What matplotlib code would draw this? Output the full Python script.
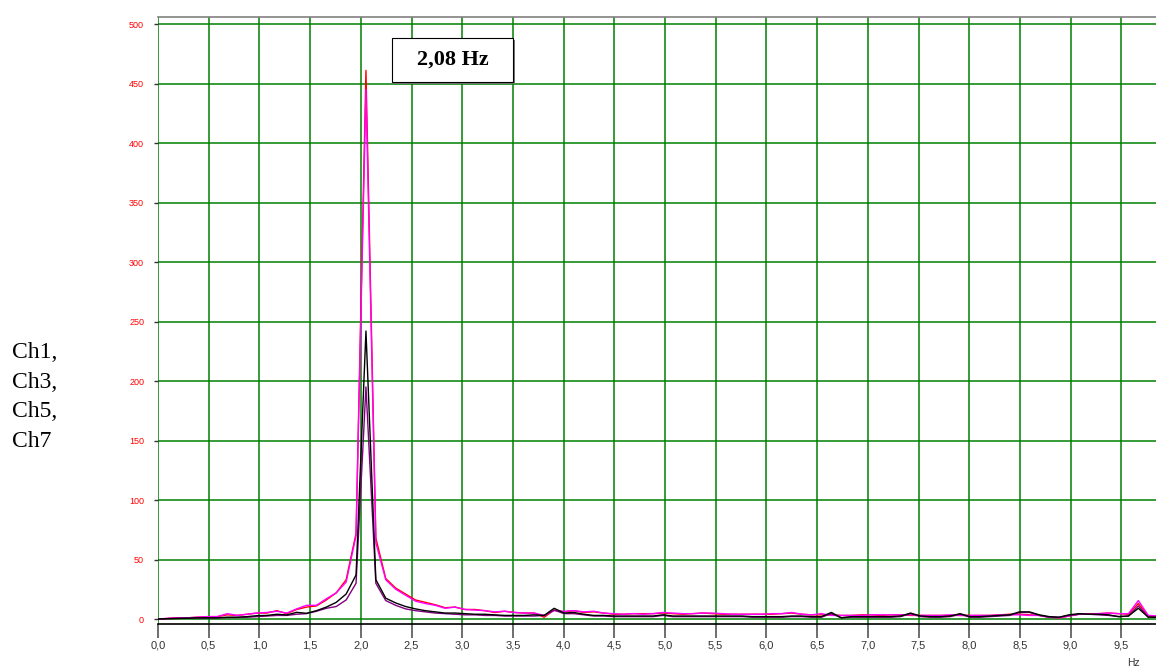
import numpy as np
import matplotlib
matplotlib.use("Agg")
import matplotlib.pyplot as plt
from matplotlib.patches import Rectangle


# spectrum bins: 100 Hz / 1024 points
DF = 100.0 / 1024.0

ch_red = [
    0, 0.5, 1, 1, 1.5, 2, 2, 3.5, 3, 4,
    5, 5, 7, 4.5, 8, 10, 11, 16, 22, 33,
    72, 461, 68, 34, 26, 21, 16, 14, 12, 9.5,
    10, 8, 8, 7, 5.5, 6.5, 5.5, 5, 5, 1.5,
    7.5, 6, 7, 5.5, 6, 5, 4, 4, 4.5, 4.5,
    4.5, 5, 4.5, 4, 4.5, 5, 4.5, 4, 4, 4,
    4, 4, 4, 4.5, 5, 4, 3.5, 3.5, 3.5, 3,
    3, 3.5, 3.5, 3, 3.5, 3.5, 3, 3, 3, 3,
    3, 3, 3, 3, 3, 3.5, 4, 4, 3.5, 3,
    1.5, 1, 2.5, 4, 4.5, 4.5, 5, 4.5, 4, 13,
    2.5, 2,
]
ch_magenta = [
    0, 0.5, 1, 1, 1.5, 2, 2, 4.5, 3, 4,
    5, 5.5, 6.5, 5, 8.5, 11.5, 11.5, 17, 22, 31,
    70, 445, 64, 33, 25, 20, 15, 13, 11.5, 9,
    10, 8, 7.5, 7, 6, 6.5, 5.5, 5, 5, 3,
    7, 6.5, 7, 6, 6.5, 5, 4.5, 4, 4.5, 4,
    4.5, 5.5, 5, 4.5, 4.5, 5, 5, 4.5, 4, 4,
    4, 4, 4.5, 4.5, 5.5, 4, 3.5, 4.5, 3, 3,
    3, 3, 3.5, 3.5, 3.5, 3.5, 3.5, 3, 3, 3,
    3.5, 3, 3, 3, 3, 3.5, 3.5, 3.5, 3, 3,
    1.5, 1, 2.5, 4, 4, 4.5, 5, 4.5, 4.5, 15.5,
    3, 2.5,
]
ch_black = [
    0, 0.3, 0.5, 0.7, 1, 1, 1, 1.5, 1.5, 2,
    2.8, 3, 4, 3.4, 5.6, 4.8, 7, 10, 14, 21,
    37, 242, 33, 17.5, 13.5, 10.5, 8.5, 7, 6, 5,
    5, 4.5, 4, 4, 3.5, 3, 3, 3, 3.5, 3,
    9, 5, 5.5, 4, 3, 3, 2.5, 2.5, 2.5, 2.5,
    2.5, 3.5, 2.5, 2.5, 2.5, 2.5, 2.5, 2.5, 2.5, 2.5,
    2, 2, 2, 2, 2.5, 2.5, 2, 2, 5.5, 1,
    2, 2, 2, 2, 2, 2.5, 5, 2.5, 2, 2,
    2.5, 4.5, 2, 2, 2.5, 3, 3.5, 6, 6, 3.5,
    2, 1.5, 3.5, 4.5, 4, 4, 3.5, 2, 2.5, 9,
    1.5, 1.5,
]
ch_purple = [
    0, 0.3, 0.5, 0.6, 0.8, 0.8, 1, 1.2, 1.3, 1.5,
    2, 2.5, 3, 3, 4, 4.5, 6.5, 9, 10.5, 16,
    30, 195, 30, 15.5, 11.5, 8.5, 7, 6, 5, 4.5,
    4, 3.5, 3.5, 3, 3, 2.5, 2.5, 2.5, 2.5, 3,
    7.5, 4.5, 4.5, 3.5, 2.5, 2.5, 2, 2, 2, 2,
    2, 3, 2, 2, 2, 2, 2, 2, 2, 2,
    1.5, 1.5, 1.5, 1.5, 2, 2, 1.5, 1.5, 4.5, 1,
    1.5, 1.5, 1.5, 1.5, 1.5, 2, 4.5, 2, 1.5, 1.5,
    2, 4, 1.5, 1.5, 2, 2.5, 3, 5.5, 5.5, 3,
    1.5, 1.5, 3, 4, 4, 3.5, 3, 2, 2.5, 11,
    1.5, 1.5,
]

x_ticks = [0.0, 0.5, 1.0, 1.5, 2.0, 2.5, 3.0, 3.5, 4.0, 4.5,
           5.0, 5.5, 6.0, 6.5, 7.0, 7.5, 8.0, 8.5, 9.0, 9.5]
y_ticks = [0, 50, 100, 150, 200, 250, 300, 350, 400, 450, 500]
peak_label = "2,08 Hz"
channel_label = "Ch1,\nCh3,\nCh5,\nCh7"

freq = np.arange(len(ch_red)) * DF

W, H = 1156, 666
fig = plt.figure(figsize=(W / 100, H / 100), dpi=100)
ax = fig.add_axes([158 / W, 1 - 624 / H, 1 - 158 / W, (624 - 17) / H])

ax.plot(freq, ch_red, color="#ff0000", lw=1.0, zorder=3)
ax.plot(freq, ch_magenta, color="#ff00ff", lw=1.0, zorder=4)
ax.plot(freq, ch_purple, color="#800080", lw=1.0, zorder=5)
ax.plot(freq, ch_black, color="#000000", lw=1.0, zorder=6)

ax.set_xlim(0, 9.842)
ax.set_ylim(-4.2, 505.9)

ax.set_xticks(x_ticks)
ax.set_xticklabels([f"{v:.1f}".replace(".", ",") for v in x_ticks],
                   fontsize=8, color="#333333", family="Liberation Sans")
ax.set_yticks(y_ticks)
ax.set_yticklabels([str(v) for v in y_ticks], fontsize=6.5,
                   color="#ff0000", family="Liberation Sans")
ax.tick_params(axis="x", length=10, width=1.2, color="#555555", pad=2)
ax.tick_params(axis="y", length=3, width=1, color="#333333", pad=7)

# green grid at every tick
for xv in x_ticks:
    ax.axvline(xv, color="#008000", lw=1.1, zorder=1)
for yv in y_ticks:
    ax.axhline(yv, color="#008000", lw=1.1, zorder=1)

for s in ("left", "right"):
    ax.spines[s].set_visible(False)
ax.spines["top"].set_color("#808080")
ax.spines["top"].set_linewidth(1.2)
ax.spines["bottom"].set_color("#000000")
ax.spines["bottom"].set_linewidth(1.2)

# peak annotation box with a small drop shadow
bx, by, bw, bh = 392 / W, 1 - 82 / H, 121 / W, 44 / H
fig.patches.append(Rectangle((bx + 1.5 / W, by - 1.5 / H), bw, bh, transform=fig.transFigure,
                             facecolor="#777777", edgecolor="none", zorder=5))
fig.patches.append(Rectangle((bx, by), bw, bh, transform=fig.transFigure,
                             facecolor="white", edgecolor="black", lw=0.8, zorder=6))
fig.text(bx + bw / 2, by + bh / 2, peak_label, ha="center", va="center",
         fontsize=16, fontweight="bold", family="Liberation Serif", zorder=7)

fig.text(12 / W, 1 - 397 / H, channel_label, ha="left", va="center",
         fontsize=17, family="Liberation Serif", linespacing=1.55)

fig.text(1133 / W, 1 - 658 / H, "Hz", ha="center", va="top",
         fontsize=7.5, color="#333333", family="Liberation Sans")

fig.savefig("out.png", dpi=100)
plt.close(fig)
